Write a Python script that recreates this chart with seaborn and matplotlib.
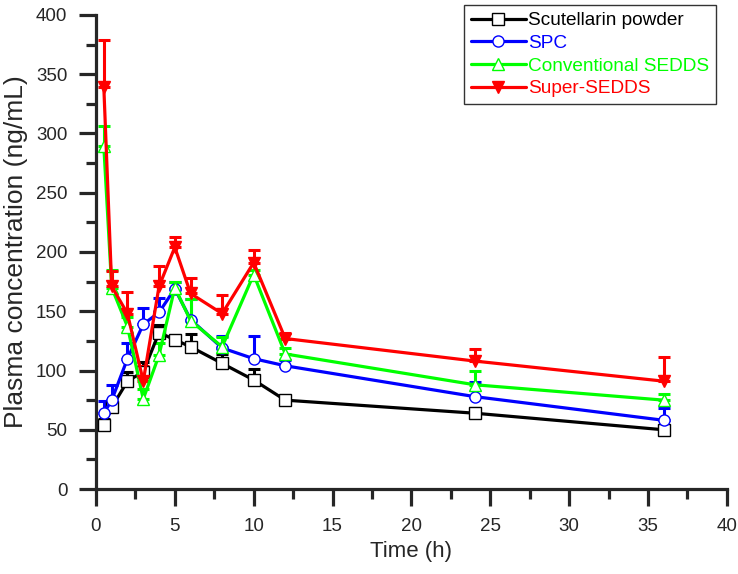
import numpy as np
import pandas as pd
import seaborn as sns
import matplotlib.pyplot as plt
from matplotlib.lines import Line2D

# sampling times (h)
time_h = [0.5, 1, 2, 3, 4, 5, 6, 8, 10, 12, 24, 36]

# mean plasma concentration (ng/mL)
powder = [54, 69, 91, 99, 132, 126, 120, 106, 92, 75, 64, 50]
spc = [64, 75, 110, 139, 149, 169, 143, 119, 110, 104, 78, 58]
conv_sedds = [289, 170, 137, 76, 113, 170, 142, 120, 181, 114, 88, 75]
super_sedds = [339, 171, 148, 91, 171, 204, 165, 148, 191, 127, 108, 91]

# upper SD
powder_sd = [5, 4, 8, 8, 6, 3, 11, 8, 9, 2, 4, 3]
spc_sd = [10, 13, 13, 14, 12, 6, 17, 10, 19, 5, 12, 10]
conv_sedds_sd = [17, 15, 8, 8, 10, 5, 18, 8, 4, 5, 12, 5]
super_sedds_sd = [40, 13, 18, 13, 17, 9, 13, 16, 11, 5, 10, 20]

series = [
    ("Scutellarin powder", powder, powder_sd, "black", "s", "white"),
    ("SPC", spc, spc_sd, "#0000ff", "o", "white"),
    ("Conventional SEDDS", conv_sedds, conv_sedds_sd, "#00ff00", "^", "white"),
    ("Super-SEDDS", super_sedds, super_sedds_sd, "#ff0000", "v", "#ff0000"),
]

sns.set_style("ticks")
plt.rcParams['font.family'] = ['Liberation Sans', 'DejaVu Sans']

fig = plt.figure(figsize=(7.38, 5.74), dpi=100)
ax = fig.add_axes([0.130, 0.148, 0.855, 0.826])

handles = []
for name, vals, sd, col, mk, fc in series:
    df = pd.DataFrame({"t": time_h, "c": vals})
    ax.errorbar(time_h, vals, yerr=[np.zeros(len(sd)), sd], fmt="none",
                ecolor=col, elinewidth=2.2, capsize=4.5, capthick=2.2, zorder=2)
    sns.lineplot(data=df, x="t", y="c", ax=ax, color=col, linewidth=2.3,
                 marker=mk, markersize=8, markerfacecolor=fc,
                 markeredgecolor=col, markeredgewidth=1.0, zorder=3)
    handles.append(Line2D([], [], color=col, linewidth=2.3, marker=mk, markersize=8,
                          markerfacecolor=fc, markeredgecolor=col,
                          markeredgewidth=1.0))

ax.set_xlim(0, 40)
ax.set_ylim(0, 400)
ax.set_xticks(np.arange(0, 41, 5))
ax.set_xticks(np.arange(2.5, 40, 5), minor=True)
ax.set_yticks(np.arange(0, 401, 50))
ax.set_yticks(np.arange(25, 400, 50), minor=True)
ax.tick_params(which="major", direction="out", length=12.5, width=2.3, labelsize=13.5, pad=8)
ax.tick_params(which="minor", direction="out", length=7, width=2.3)
for side in ["left", "bottom"]:
    ax.spines[side].set_linewidth(2.3)
sns.despine(ax=ax)

ax.set_xlabel("Time (h)", fontsize=16, labelpad=5)
ax.set_ylabel("Plasma concentration (ng/mL)", fontsize=19, labelpad=6)

leg = ax.legend(handles, [s[0] for s in series], loc="upper right",
                bbox_to_anchor=(0.988, 1.028), fontsize=13.7, frameon=True,
                fancybox=False, edgecolor="black", handlelength=2.9,
                handletextpad=0.1, labelspacing=0.28, borderpad=0.35,
                borderaxespad=0.2)
leg.get_frame().set_linewidth(1.0)
for txt, s in zip(leg.get_texts(), series):
    txt.set_color(s[3])

fig.savefig("out.png", dpi=100)
